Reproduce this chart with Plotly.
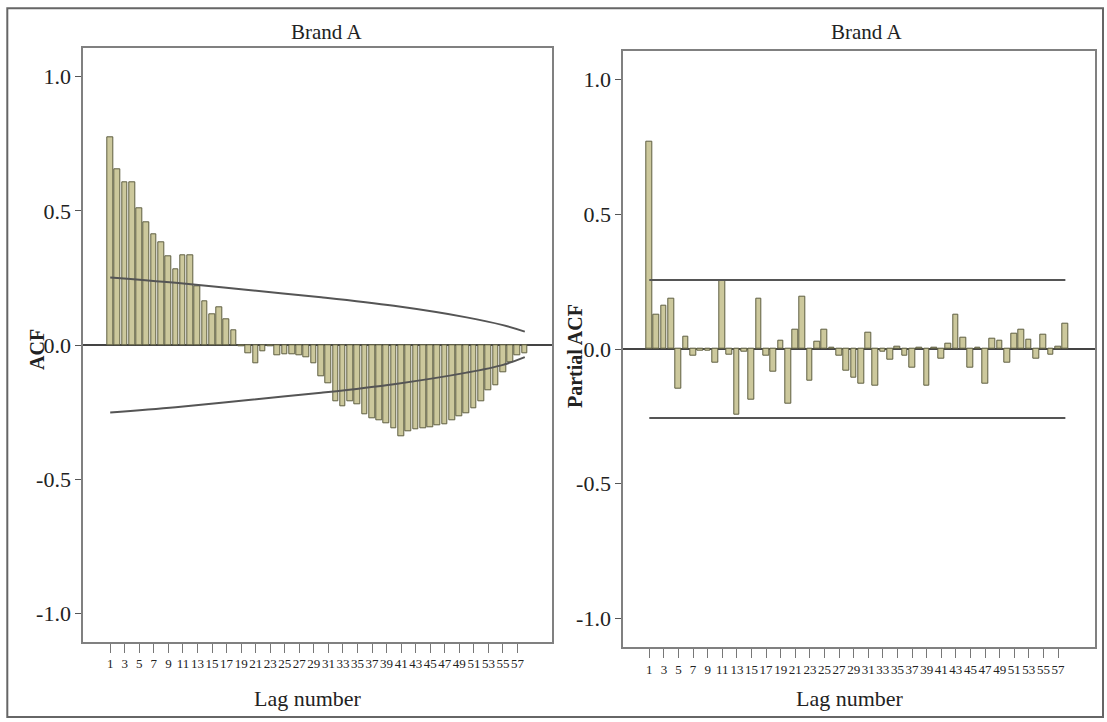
import plotly.graph_objects as go

lags = list(range(1, 59))

acf_values = [0.776, 0.655, 0.607, 0.607, 0.51, 0.458, 0.414, 0.383, 0.331, 0.281,
              0.333, 0.333, 0.22, 0.162, 0.116, 0.14, 0.097, 0.053, -0.005, -0.03,
              -0.07, -0.025, -0.005, -0.04, -0.035, -0.035, -0.04, -0.045, -0.068, -0.118,
              -0.143, -0.21, -0.23, -0.21, -0.22, -0.26, -0.275, -0.28, -0.29, -0.31,
              -0.34, -0.32, -0.315, -0.31, -0.305, -0.3, -0.295, -0.28, -0.265, -0.255,
              -0.235, -0.21, -0.17, -0.15, -0.1, -0.065, -0.04, -0.03]

pacf_values = [0.77, 0.128, 0.162, 0.188, -0.149, 0.044, -0.026, -0.005, -0.005, -0.05,
               0.254, -0.022, -0.243, -0.01, -0.19, 0.188, -0.025, -0.084, 0.03, -0.205,
               0.073, 0.196, -0.118, 0.027, 0.073, 0.005, -0.025, -0.079, -0.106, -0.13,
               0.06, -0.136, -0.01, -0.04, 0.01, -0.025, -0.068, 0.003, -0.136, 0.003,
               -0.035, 0.02, 0.128, 0.043, -0.068, 0.005, -0.13, 0.04, 0.03, -0.05,
               0.055, 0.073, 0.033, -0.035, 0.053, -0.02, 0.01, 0.094]

# ACF confidence limits
acf_conf_lags = [1, 10, 20, 30, 40, 50, 55, 58]
acf_conf_upper = [0.252, 0.232, 0.205, 0.178, 0.146, 0.103, 0.074, 0.05]
acf_conf_lower = [-0.252, -0.232, -0.205, -0.178, -0.146, -0.103, -0.074, -0.045]

# PACF confidence limits
pacf_conf_lags = [1, 58]
pacf_conf_upper = [0.256, 0.256]
pacf_conf_lower = [-0.256, -0.256]

tick_lags = list(range(1, 58, 2))
tick_text = [str(v) for v in tick_lags]
y_ticks = [-1.0, -0.5, 0.0, 0.5, 1.0]
y_tick_text = ["-1.0", "-0.5", "0.0", "0.5", "1.0"]

titles = ["Brand A", "Brand A"]
y_titles = ["ACF", "Partial ACF"]
x_title = "Lag number"

W, H = 1107, 722
SERIF = "Liberation Serif, Times New Roman, serif"
bar_fill = "#ccc89c"
bar_line = "#5f5f42"
conf_col = "#555555"
frame_col = "#808080"
text_col = "#222222"

fig = go.Figure()

fig.add_trace(go.Bar(x=lags, y=acf_values, width=0.78, marker=dict(color=bar_fill, line=dict(color=bar_line, width=1)),
                     xaxis="x", yaxis="y", showlegend=False))
fig.add_trace(go.Scatter(x=acf_conf_lags, y=acf_conf_upper, mode="lines", line=dict(color=conf_col, width=2, shape="spline"),
                         xaxis="x", yaxis="y", showlegend=False))
fig.add_trace(go.Scatter(x=acf_conf_lags, y=acf_conf_lower, mode="lines", line=dict(color=conf_col, width=2, shape="spline"),
                         xaxis="x", yaxis="y", showlegend=False))

fig.add_trace(go.Bar(x=lags, y=pacf_values, width=0.78, marker=dict(color=bar_fill, line=dict(color=bar_line, width=1)),
                     xaxis="x2", yaxis="y2", showlegend=False))
fig.add_trace(go.Scatter(x=pacf_conf_lags, y=pacf_conf_upper, mode="lines", line=dict(color=conf_col, width=2),
                         xaxis="x2", yaxis="y2", showlegend=False))
fig.add_trace(go.Scatter(x=pacf_conf_lags, y=pacf_conf_lower, mode="lines", line=dict(color=conf_col, width=2),
                         xaxis="x2", yaxis="y2", showlegend=False))

def px_x(p):
    return p / W

def px_y(p):
    return (H - p) / H

xaxis_common = dict(tickvals=tick_lags, ticktext=tick_text, ticks="outside", ticklen=9, tickwidth=1,
                    tickcolor="#777777", showline=True, linecolor=frame_col, linewidth=2, mirror=True,
                    showgrid=False, zeroline=False, tickangle=0,
                    tickfont=dict(family=SERIF, size=13, color=text_col))
yaxis_common = dict(tickvals=y_ticks, ticktext=y_tick_text, ticks="outside", ticklen=6, tickwidth=1,
                    tickcolor="#555555", showline=True, linecolor=frame_col, linewidth=2, mirror=True,
                    showgrid=False, zeroline=True, zerolinecolor="#444444", zerolinewidth=1.5,
                    tickfont=dict(family=SERIF, size=22, color=text_col))

fig.update_layout(
    width=W, height=H,
    margin=dict(l=0, r=0, t=0, b=0),
    paper_bgcolor="white", plot_bgcolor="white",
    bargap=0,
    xaxis=dict(domain=[px_x(83.3), px_x(551.7)], range=[-2.7, 61.7], anchor="y", **xaxis_common),
    yaxis=dict(domain=[px_y(641.7), px_y(48.3)], range=[-1.106, 1.106], anchor="x", **yaxis_common),
    xaxis2=dict(domain=[px_x(623.3), px_x(1095)], range=[-2.56, 62.06], anchor="y2", **xaxis_common),
    yaxis2=dict(domain=[px_y(647.3), px_y(50.7)], range=[-1.108, 1.108], anchor="x2", **yaxis_common),
)

annotations = [
    dict(text=titles[0], x=px_x(326.7), y=px_y(31.7), font=dict(family=SERIF, size=21, color=text_col)),
    dict(text=titles[1], x=px_x(866.7), y=px_y(32), font=dict(family=SERIF, size=21, color=text_col)),
    dict(text=x_title, x=px_x(308), y=px_y(698), font=dict(family=SERIF, size=22, color=text_col)),
    dict(text=x_title, x=px_x(850), y=px_y(698), font=dict(family=SERIF, size=22, color=text_col)),
    dict(text="<b>" + y_titles[0] + "</b>", x=px_x(37), y=px_y(350), textangle=-90,
         font=dict(family=SERIF, size=20, color=text_col)),
    dict(text="<b>" + y_titles[1] + "</b>", x=px_x(575), y=px_y(356), textangle=-90,
         font=dict(family=SERIF, size=20, color=text_col)),
]
for a in annotations:
    a.update(xref="paper", yref="paper", showarrow=False, xanchor="center", yanchor="middle")
fig.update_layout(annotations=annotations)

fig.add_shape(type="rect", xref="paper", yref="paper",
              x0=px_x(7.3), x1=px_x(1103), y0=px_y(717), y1=px_y(8.3),
              line=dict(color="#666666", width=2), fillcolor="rgba(0,0,0,0)", layer="below")

fig.write_html("out.html", config={"displayModeBar": False},
               post_script="document.body.style.margin='0';")
